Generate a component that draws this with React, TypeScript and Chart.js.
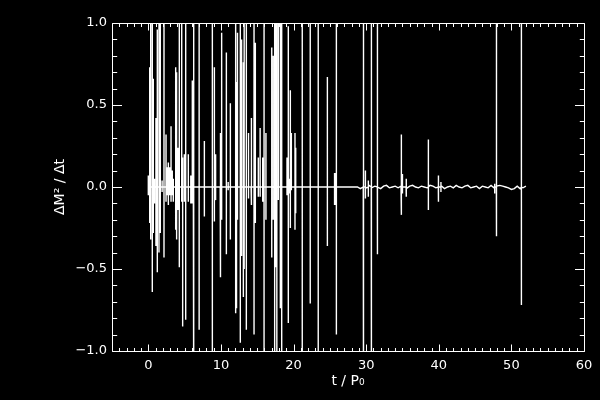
import React, { useEffect, useRef } from "react";
import { Chart, registerables } from "chart.js";

Chart.register(...registerables);

// ---- axis definitions ----
const X_MIN = -5;
const X_MAX = 60;
const Y_MIN = -1;
const Y_MAX = 1;
const xMajorTicks = [0, 10, 20, 30, 40, 50, 60];
const xTickLabels = ["0", "10", "20", "30", "40", "50", "60"];
const yMajorTicks = [-1, -0.5, 0, 0.5, 1];
const yTickLabels = ["\u22121.0", "\u22120.5", "0.0", "0.5", "1.0"];
const xTitle = "t / P\u2080";
const yTitle = "\u0394M\u00B2 / \u0394t";

// ---- data: isolated spikes (time, upper extent, lower extent) ----
const spikeT = [
  0.0, 0.19, 0.33, 0.55, 0.69, 0.85, 1.05, 1.24, 1.47, 1.65, 1.9, 2.16, 2.44, 2.6, 2.76, 2.94,
  3.13, 3.3, 3.44, 3.77, 3.9, 4.02, 4.13, 4.27, 4.6, 4.73, 4.96, 5.15, 5.51, 5.85, 5.92, 6.06,
  6.2, 6.29, 7.0, 7.72, 8.82, 9.1, 9.2, 9.32, 9.9, 9.97, 10.1, 10.75, 11.0, 11.3, 12.03, 12.15,
  12.28, 12.67, 12.85, 13.09, 13.2, 13.5, 13.8, 14.15, 14.24, 14.56, 14.74, 15.15, 15.4, 15.75,
  15.94, 16.2, 17.0, 17.2, 17.4, 17.55, 17.7, 17.9, 18.18, 18.37, 19.1, 19.28, 19.4, 19.56,
  19.7, 20.2, 20.3, 21.2, 22.3, 23.4, 24.66, 25.65, 25.75, 25.9, 29.6, 29.67, 29.9, 30.3, 30.7,
  31.54, 34.85, 35.0, 35.5, 38.57, 39.94, 40.3, 47.7, 47.93, 51.38,
];
const spikeHigh = [
  0.07, 0.73, 1.3, 1.3, 0.66, 0.05, 0.42, 0.96, 1.3, 1.3, 0.04, 1.3, 0.32, 0.12, 0.15, 0.12,
  0.37, 0.1, 0.05, 0.73, 0.7, 0.24, 0.24, 1.3, 1.3, 0.18, 0.2, 1.3, 0.2, 0.07, 0.07, 0.65,
  1.3, 1.3, 1.3, 0.28, 1.3, 0.73, 0.2, 0.13, 0.33, 0.33, 0.94, 0.82, 0.03, 0.51, 1.3, 0.64,
  0.94, 1.3, 0.9, 0.76, 1.3, 1.3, 0.33, 0.39, 0.42, 1.3, 0.88, 0.18, 0.36, 0.18,
  1.3, 0.33, 0.85, 0.8, 1.3, 1.3, 1.3, 1.3, 1.3, 1.3, 0.18, 0.98, 0.05, 0.59,
  0.33, 0.33, 0.24, 1.3, 1.3, 1.3, 0.67, 0.085, 0.085, 1.3, 0.15, 1.3, 0.1, 0.04, 1.3,
  1.3, 0.32, 0.08, 0.05, 0.29, 0.07, 0.03, 0.02, 1.3, 1.3,
];
const spikeLow = [
  -0.05, -0.22, -0.32, -0.64, -0.28, -0.1, -0.36, -0.52, -0.4, -0.28, -0.03, -0.43, -0.09, -0.05, -0.11, -0.05,
  -0.09, -0.05, -0.09, -0.26, -0.32, -0.14, -0.14, -0.49, -0.09, -0.85, -0.09, -0.81, -0.09, -0.1, -0.1, -0.1,
  -1.3, -0.38, -0.87, -0.18, -1.3, -0.21, -0.08, -0.06, -0.45, -0.55, -0.2, -0.41, -0.02, -0.32, -0.77, -0.74,
  -0.2, -0.95, -0.42, -0.67, -0.5, -0.87, -0.07, -0.1, -0.11, -0.9, -0.22, -0.06, -0.06, -0.09,
  -1.3, -0.2, -0.43, -0.2, -1.3, -0.49, -1.3, -0.08, -0.74, -1.3, -0.05, -0.83, -0.04, -0.25,
  -0.02, -0.26, -0.16, -1.3, -0.71, -1.3, -0.36, -0.11, -0.11, -0.9, -0.1, -1.3, -0.07, -0.06, -1.3,
  -0.41, -0.17, -0.04, -0.06, -0.14, -0.09, -0.03, -0.04, -0.3, -0.72,
];

// ---- data: low-level jitter in the late, quiet phase ----
const noiseStartT = 28.8;
const noiseStepT = 0.4;
const noiseValues = [
  0, -0.01, 0.005, -0.005, 0.01, -0.005, 0.005, 0, -0.01, 0.005, 0.01, -0.005, 0, 0.005, -0.005, 0.005,
  0, -0.01, 0.005, 0.01, 0, -0.005, 0.005, 0, -0.005, 0.01, 0.005, -0.005, 0, 0.005, -0.01, 0, 0.005,
  -0.005, 0.01, 0, -0.005, 0.005, 0.01, -0.005, 0, 0.005, -0.01, 0.005, 0, -0.005, 0.01, -0.005, 0.005,
  0.01, 0.005, 0, -0.005, -0.015, -0.01, 0.005, -0.01, -0.005, 0.005,
];

type Pt = { x: number; y: number };

function buildSeries(): Pt[] {
  const groups: { t: number; pts: Pt[] }[] = [];
  spikeT.forEach((t, i) => {
    groups.push({
      t,
      pts: [
        { x: t, y: 0 },
        { x: t, y: spikeHigh[i] },
        { x: t, y: spikeLow[i] },
        { x: t, y: 0 },
      ],
    });
  });
  noiseValues.forEach((v, i) => {
    const t = noiseStartT + i * noiseStepT;
    groups.push({ t, pts: [{ x: t, y: v }] });
  });
  groups.sort((a, b) => a.t - b.t);
  const out: Pt[] = [];
  groups.forEach((g) => out.push(...g.pts));
  return out;
}

const idlAxes = {
  id: "idlAxes",
  afterDatasetsDraw(chart: any) {
    const { ctx, chartArea, scales } = chart;
    const { left, right, top, bottom } = chartArea;
    const xs = scales.x;
    const ys = scales.y;
    const snap = (v: number) => Math.round(v) + 0.5;
    ctx.save();
    ctx.strokeStyle = "#ffffff";
    ctx.lineWidth = 1;
    ctx.beginPath();
    const L = snap(left), R = snap(right), T = snap(top), B = snap(bottom);
    ctx.moveTo(L, T); ctx.lineTo(R, T); ctx.lineTo(R, B); ctx.lineTo(L, B); ctx.closePath();
    // x ticks every 1, major every 10
    for (let i = X_MIN; i <= X_MAX; i++) {
      const px = snap(xs.getPixelForValue(i));
      const len = i % 10 === 0 ? 7 : 3.5;
      ctx.moveTo(px, B); ctx.lineTo(px, B - len);
      ctx.moveTo(px, T); ctx.lineTo(px, T + len);
    }
    // y ticks every 0.1, major every 0.5
    for (let i = Y_MIN * 10; i <= Y_MAX * 10; i++) {
      const py = snap(ys.getPixelForValue(i / 10));
      const len = i % 5 === 0 ? 9.5 : 4.7;
      ctx.moveTo(L, py); ctx.lineTo(L + len, py);
      ctx.moveTo(R, py); ctx.lineTo(R - len, py);
    }
    ctx.stroke();
    ctx.restore();
  },
};

export default function App() {
  const ref = useRef<HTMLCanvasElement | null>(null);
  useEffect(() => {
    if (!ref.current) return;
    const font = "'DejaVu Sans', 'Liberation Sans', sans-serif";
    const chart = new Chart(ref.current, {
      type: "scatter",
      data: {
        datasets: [
          {
            data: buildSeries(),
            showLine: true,
            borderColor: "#ffffff",
            borderWidth: 1.4,
            pointRadius: 0,
            tension: 0,
          },
        ],
      },
      options: {
        animation: false,
        responsive: false,
        maintainAspectRatio: false,
        layout: { padding: { top: 23, right: 16, left: 0, bottom: 0 } },
        plugins: { legend: { display: false }, tooltip: { enabled: false } },
        events: [],
        scales: {
          x: {
            type: "linear",
            min: X_MIN,
            max: X_MAX,
            grid: { display: false, drawTicks: false },
            border: { display: false },
            afterBuildTicks: (s: any) => {
              s.ticks = xMajorTicks.map((v) => ({ value: v }));
            },
            afterFit: (s: any) => {
              s.height = 49;
            },
            ticks: {
              color: "#ffffff",
              font: { family: font, size: 13 },
              padding: 7,
              autoSkip: false,
              maxRotation: 0,
              callback: (_v: any, i: number) => xTickLabels[i],
            },
            title: {
              display: true,
              text: xTitle,
              color: "#ffffff",
              font: { family: font, size: 14 },
              padding: { top: 0, bottom: 10 },
            },
          },
          y: {
            type: "linear",
            min: Y_MIN,
            max: Y_MAX,
            grid: { display: false, drawTicks: false },
            border: { display: false },
            afterBuildTicks: (s: any) => {
              s.ticks = yMajorTicks.map((v) => ({ value: v }));
            },
            afterFit: (s: any) => {
              s.width = 112;
            },
            ticks: {
              color: "#ffffff",
              font: { family: font, size: 13 },
              padding: 5,
              autoSkip: false,
              callback: (_v: any, i: number) => yTickLabels[i],
            },
            title: {
              display: true,
              text: yTitle,
              color: "#ffffff",
              font: { family: font, size: 14 },
              padding: { top: 52, bottom: 0 },
            },
          },
        },
      },
      plugins: [idlAxes],
    });
    return () => chart.destroy();
  }, []);

  return (
    <div
      style={{
        position: "fixed",
        left: 0,
        top: 0,
        width: 600,
        height: 400,
        background: "#000000",
      }}
    >
      <canvas ref={ref} width={600} height={400} style={{ display: "block" }} />
    </div>
  );
}
